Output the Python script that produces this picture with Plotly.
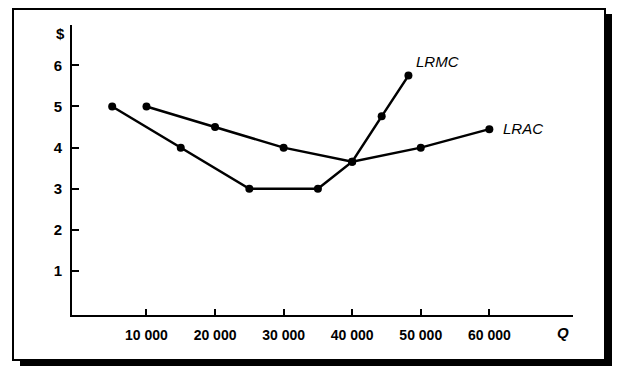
import plotly.graph_objects as go

# Data
lrmc_q = [5000, 15000, 25000, 35000, 40000, 44300, 48200]
lrmc_p = [5.0, 4.0, 3.0, 3.0, 3.66, 4.76, 5.75]
lrac_q = [10000, 20000, 30000, 40000, 50000, 60000]
lrac_p = [5.0, 4.5, 4.0, 3.66, 4.0, 4.45]
x_ticks = [10000, 20000, 30000, 40000, 50000, 60000]
x_tick_labels = ["10 000", "20 000", "30 000", "40 000", "50 000", "60 000"]
y_ticks = [1, 2, 3, 4, 5, 6]

FONT = "Liberation Sans, Arial, sans-serif"

fig = go.Figure()
line_style = dict(color="black", width=2.5)
marker_style = dict(color="black", size=8)
fig.add_trace(go.Scatter(x=lrmc_q, y=lrmc_p, mode="lines+markers",
                         line=line_style, marker=marker_style, name="LRMC"))
fig.add_trace(go.Scatter(x=lrac_q, y=lrac_p, mode="lines+markers",
                         line=line_style, marker=marker_style, name="LRAC"))

W, H = 620, 378
L, R, T, B = 72, 47, 25, 63
pw, ph = W - L - R, H - T - B

def px(xp):
    return (xp - L) / pw

def py(yp):
    return (H - B - yp) / ph

shapes = [
    # shadow
    dict(type="rect", xref="paper", yref="paper", layer="below",
         x0=px(20), x1=px(612), y0=py(366), y1=py(14),
         fillcolor="black", line=dict(width=0)),
    # frame
    dict(type="rect", xref="paper", yref="paper", layer="below",
         x0=px(13), x1=px(605), y0=py(360), y1=py(9),
         fillcolor="white", line=dict(color="black", width=2)),
]

annotations = [
    dict(x=52400, y=6.1, xref="x", yref="y", text="<i>LRMC</i>", showarrow=False,
         xanchor="center", yanchor="middle",
         font=dict(family=FONT, size=15, color="black")),
    dict(x=64900, y=4.47, xref="x", yref="y", text="<i>LRAC</i>", showarrow=False,
         xanchor="center", yanchor="middle",
         font=dict(family=FONT, size=15, color="black")),
    dict(x=px(60), y=py(33), xref="paper", yref="paper", text="<b>$</b>", showarrow=False,
         xanchor="center", yanchor="middle",
         font=dict(family=FONT, size=15, color="black")),
    dict(x=px(563), y=py(332), xref="paper", yref="paper", text="<i><b>Q</b></i>", showarrow=False,
         xanchor="center", yanchor="middle",
         font=dict(family=FONT, size=15, color="black")),
]

fig.update_layout(
    width=W, height=H,
    margin=dict(l=L, r=R, t=T, b=B, pad=0),
    paper_bgcolor="white",
    plot_bgcolor="rgba(0,0,0,0)",
    showlegend=False,
    shapes=shapes,
    annotations=annotations,
    font=dict(family=FONT, size=14, color="black"),
    xaxis=dict(range=[-860, 72200], tickvals=x_ticks, ticktext=x_tick_labels,
               showgrid=False, zeroline=False, showline=True, linecolor="black",
               linewidth=2, ticks="inside", ticklen=6, tickwidth=2, tickcolor="black",
               ticklabelstandoff=6,
               tickfont=dict(family=FONT, size=14, color="black", weight="bold")),
    yaxis=dict(range=[-0.066, 6.98], tickvals=y_ticks,
               showgrid=False, zeroline=False, showline=True, linecolor="black",
               linewidth=2, ticks="inside", ticklen=7, tickwidth=2, tickcolor="black",
               ticklabelstandoff=5,
               tickfont=dict(family=FONT, size=15, color="black", weight="bold")),
)

fig.write_html("out.html",
               config={"displayModeBar": False},
               post_script="document.body.style.margin='0';document.body.style.overflow='hidden';")
